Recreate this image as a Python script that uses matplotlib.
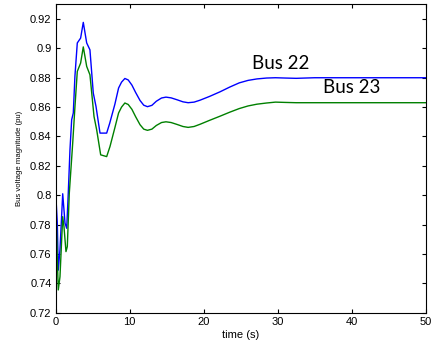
import matplotlib
matplotlib.use("Agg")
import matplotlib.pyplot as plt

# time (s) and voltage (pu)
t_22 = [0, 0.04, 0.22, 0.35, 0.58, 0.95, 1.26, 1.49, 1.7, 1.93, 2.16, 2.38, 2.6, 2.92,
        3.37, 3.73, 4.19, 4.63, 5.08, 5.45, 5.99, 6.89, 7.3, 8.0, 8.5, 8.9, 9.35, 9.8,
        10.3, 10.8, 11.4, 11.9, 12.4, 13.0, 13.6, 14.3, 14.9, 15.6, 16.4, 17.2, 17.9,
        18.7, 19.5, 20.8, 22.2, 23.5, 24.8, 26.0, 27.2, 28.5, 29.7, 31.0, 32.5, 35.0,
        40.0, 50.0]
v_22 = [1.0, 0.798, 0.781, 0.749, 0.763, 0.801, 0.781, 0.7775, 0.8014, 0.831, 0.8514,
        0.856, 0.881, 0.9037, 0.907, 0.9177, 0.9037, 0.899, 0.8696, 0.8604, 0.8423,
        0.8423, 0.849, 0.862, 0.873, 0.877, 0.8795, 0.8785, 0.875, 0.870, 0.8645,
        0.8613, 0.8603, 0.8612, 0.8640, 0.8662, 0.8668, 0.8663, 0.8650, 0.8636, 0.8630,
        0.8634, 0.8647, 0.8673, 0.8704, 0.8736, 0.8765, 0.8782, 0.8792, 0.8798, 0.8800,
        0.8798, 0.8796, 0.8800, 0.8800, 0.8800]

t_23 = [0, 0.02, 0.06, 0.2, 0.35, 0.58, 0.95, 1.12, 1.39, 1.57, 1.84, 2.3, 2.6, 2.92,
        3.37, 3.73, 4.19, 4.63, 5.18, 5.54, 6.08, 6.89, 7.34, 8.0, 8.5, 8.9, 9.35, 9.8,
        10.3, 10.8, 11.4, 11.9, 12.4, 13.0, 13.6, 14.3, 14.9, 15.6, 16.4, 17.2, 17.9,
        18.7, 19.5, 20.8, 22.2, 23.5, 24.8, 26.0, 27.2, 28.5, 29.7, 31.0, 32.5, 40.0,
        50.0]
v_23 = [1.0, 0.700, 0.787, 0.760, 0.7355, 0.7445, 0.7854, 0.7786, 0.7616, 0.765,
        0.8014, 0.8355, 0.860, 0.8843, 0.890, 0.901, 0.8877, 0.882, 0.8536, 0.8445,
        0.8275, 0.8263, 0.8332, 0.846, 0.856, 0.860, 0.8628, 0.8618, 0.8585, 0.8535,
        0.8480, 0.8450, 0.8442, 0.8450, 0.8475, 0.8495, 0.8500, 0.8495, 0.8482, 0.8468,
        0.8462, 0.8468, 0.8483, 0.8510, 0.8538, 0.8565, 0.8590, 0.8608, 0.8620, 0.8628,
        0.8634, 0.8632, 0.8630, 0.8630, 0.8630]

yticks = [0.72, 0.74, 0.76, 0.78, 0.8, 0.82, 0.84, 0.86, 0.88, 0.9, 0.92]
xticks = [0, 10, 20, 30, 40, 50]

plt.rcParams['font.family'] = ['Liberation Sans', 'DejaVu Sans']

fig = plt.figure(figsize=(4.33, 3.48), dpi=100)
ax = fig.add_axes([0.1286, 0.1014, 0.8545, 0.8862])

ax.plot(t_22, v_22, color='#0000ff', lw=1.0)
ax.plot(t_23, v_23, color='#008000', lw=1.0)

ax.set_xlim(0, 50)
ax.set_ylim(0.72, 0.93)
ax.set_xticks(xticks)
ax.set_xticklabels([str(x) for x in xticks])
ax.set_yticks(yticks)
ax.set_yticklabels([f"{y:g}" for y in yticks])
ax.tick_params(direction='in', length=3, width=0.8, labelsize=8, pad=3,
               top=True, right=True)

ax.set_xlabel("time (s)", fontsize=8, labelpad=2)
ax.set_ylabel("Bus voltage magnitude (pu)", fontsize=5.6, labelpad=5)

ax.text(30.4, 0.8898, "Bus 22", fontsize=13.5, family='Lato', ha='center', va='center')
ax.text(40.0, 0.8734, "Bus 23", fontsize=13.5, family='Lato', ha='center', va='center')

for s in ax.spines.values():
    s.set_linewidth(0.8)

fig.savefig("out.png", dpi=100)
